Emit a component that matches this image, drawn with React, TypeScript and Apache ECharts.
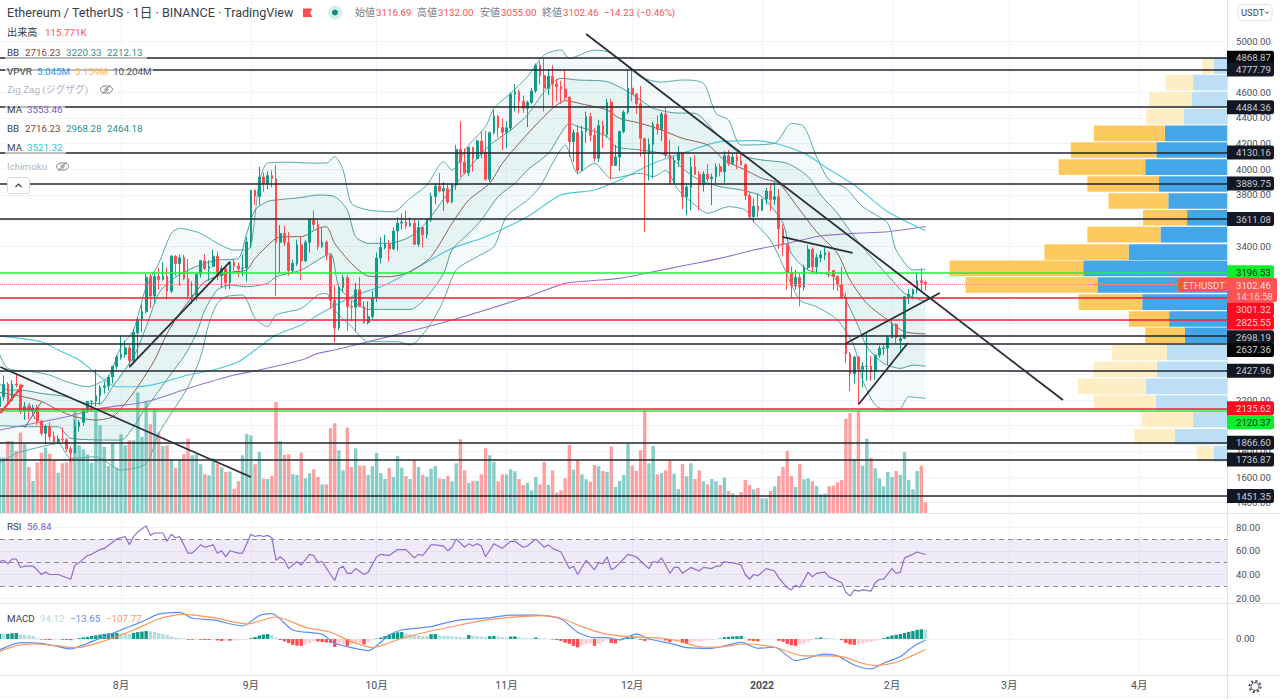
import React, { useEffect, useRef } from "react";
import * as echarts from "echarts";

// ---- daily candles: [open, high, low, close], 3 Jul 2021 to 9 Feb 2022 ----
const ohlc: number[][] = [
  // Jul
  [2150,2238,2115,2226],[2226,2390,2195,2322],[2322,2340,2165,2198],[2198,2355,2190,2324],[2324,2410,2300,2316],
  [2316,2330,2090,2116],[2116,2185,2045,2148],[2148,2160,2050,2115],[2115,2165,2095,2140],[2140,2165,2005,2035],
  [2035,2045,1920,1940],[1940,2010,1855,1995],[1995,2025,1885,1915],[1915,1955,1850,1875],[1875,1925,1860,1896],
  [1896,1985,1875,1890],[1890,1905,1795,1820],[1820,1840,1718,1787],[1787,2045,1785,1995],[1995,2045,1955,2027],
  [2027,2130,2000,2124],[2124,2192,2100,2188],[2188,2195,2110,2191],[2191,2440,2150,2233],[2233,2318,2160,2300],
  [2300,2345,2250,2310],[2310,2395,2275,2380],[2380,2465,2330,2463],[2463,2550,2440,2535],
  // Aug
  [2535,2700,2515,2555],[2555,2665,2530,2607],[2607,2630,2450,2508],[2508,2755,2480,2725],[2725,2845,2525,2827],
  [2827,2945,2730,2890],[2890,3185,2875,3158],[3158,3185,2915,3012],[3012,3185,2950,3163],[3163,3230,3060,3141],
  [3141,3275,3130,3164],[3164,3235,2985,3049],[3049,3330,3035,3322],[3322,3330,3170,3265],[3265,3335,3090,3310],
  [3310,3330,3135,3147],[3147,3300,2985,3011],[3011,3125,2950,3018],[3018,3185,2975,3182],[3182,3290,3155,3286],
  [3286,3340,3215,3226],[3226,3290,3130,3242],[3242,3375,3235,3322],[3322,3358,3135,3172],[3172,3250,3080,3226],
  [3226,3250,3065,3117],[3117,3285,3065,3275],[3275,3300,3210,3245],[3245,3270,3160,3225],[3225,3335,3170,3230],
  [3230,3470,3125,3432],
  // Sep
  [3432,3840,3385,3835],[3835,3845,3720,3788],[3788,4020,3720,3940],[3940,3975,3825,3888],[3888,3985,3845,3950],
  [3950,3990,3860,3926],[3926,4030,3010,3430],[3430,3565,3190,3498],[3498,3560,3400,3427],[3427,3510,3170,3210],
  [3210,3295,3195,3265],[3265,3450,3245,3410],[3410,3470,3135,3285],[3285,3450,3275,3430],[3430,3615,3350,3610],
  [3610,3680,3530,3570],[3570,3610,3370,3397],[3397,3540,3385,3432],[3432,3445,3290,3330],[3330,3335,2910,2978],
  [2978,3090,2650,2763],[2763,3110,2745,3078],[3078,3175,3040,3155],[3155,3175,2740,2930],[2930,2975,2815,2925],
  [2925,3115,2735,3060],[3060,3160,2925,2930],[2930,2970,2795,2805],[2805,2970,2790,2850],[2850,3050,2830,3000],
  // Oct
  [3000,3350,2965,3308],[3308,3470,3265,3390],[3390,3490,3375,3416],[3416,3450,3280,3380],[3380,3545,3370,3518],
  [3518,3625,3365,3580],[3580,3655,3530,3587],[3587,3675,3535,3560],[3560,3625,3550,3578],[3578,3605,3410,3415],
  [3415,3600,3395,3545],[3545,3550,3390,3490],[3490,3615,3460,3606],[3606,3815,3590,3788],[3788,3890,3725,3868],
  [3868,3970,3820,3830],[3830,3900,3675,3848],[3848,3890,3730,3745],[3745,3890,3735,3878],[3878,4190,3840,4155],
  [4155,4375,3940,4055],[4055,4165,3960,3972],[3972,4175,3945,4170],[4170,4175,3980,4084],[4084,4230,4075,4220],
  [4220,4295,4085,4132],[4132,4300,3910,3922],[3922,4295,3900,4285],[4285,4460,4270,4415],[4415,4420,4250,4325],
  [4325,4395,4150,4288],
  // Nov
  [4288,4375,4165,4322],[4322,4600,4300,4585],[4585,4665,4450,4605],[4605,4620,4435,4530],[4530,4575,4440,4475],
  [4475,4535,4330,4520],[4520,4635,4510,4610],[4610,4825,4595,4810],[4810,4840,4660,4730],[4730,4868,4450,4632],
  [4632,4780,4580,4726],[4726,4810,4490,4665],[4665,4705,4530,4645],[4645,4690,4510,4625],[4625,4770,4540,4560],
  [4560,4570,4095,4215],[4215,4310,4060,4285],[4285,4345,3960,3990],[3990,4340,3985,4295],[4295,4450,4205,4410],
  [4410,4440,4220,4265],[4265,4320,4060,4085],[4085,4385,4055,4340],[4340,4378,4165,4270],[4270,4550,4245,4522],
  [4522,4550,3920,4030],[4030,4190,4025,4095],[4095,4300,3985,4295],[4295,4460,4280,4445],[4445,4780,4430,4632],
  // Dec
  [4632,4780,4530,4586],[4586,4595,4430,4510],[4510,4650,4100,4240],[4240,4240,3510,4120],[4120,4240,3910,4195],
  [4195,4370,3930,4350],[4350,4420,4270,4310],[4310,4445,4220,4430],[4430,4485,4090,4110],[4110,4230,3880,3890],
  [3890,4100,3885,4070],[4070,4180,4020,4130],[4130,4135,3690,3785],[3785,3885,3640,3860],[3860,4095,3680,4018],
  [4018,4110,3955,3960],[3960,3985,3680,3880],[3880,3985,3825,3960],[3960,4040,3905,3925],[3925,3965,3720,3940],
  [3940,4045,3890,4020],[4020,4045,3945,3980],[3980,4140,3895,4105],[4105,4150,4025,4045],[4045,4120,4035,4096],
  [4096,4125,4000,4065],[4065,4125,4030,4035],[4035,4045,3760,3795],[3795,3825,3605,3630],[3630,3770,3585,3712],
  [3712,3815,3625,3680],
  // Jan
  [3680,3770,3675,3768],[3768,3855,3725,3830],[3830,3885,3675,3765],[3765,3900,3720,3785],[3785,3845,3380,3535],
  [3535,3570,3320,3410],[3410,3415,3060,3195],[3195,3240,3000,3090],[3090,3215,3060,3155],[3155,3185,2930,3080],
  [3080,3255,3055,3235],[3235,3410,3215,3375],[3375,3390,3195,3240],[3240,3340,3180,3310],[3310,3365,3275,3332],
  [3332,3390,3290,3350],[3350,3360,3160,3210],[3210,3215,3060,3165],[3165,3170,3050,3100],[3100,3240,2990,3000],
  [3000,3040,2490,2560],[2560,2575,2270,2405],[2405,2545,2330,2535],[2535,2545,2160,2440],[2440,2495,2300,2462],
  [2462,2725,2350,2465],[2465,2545,2350,2425],[2425,2555,2360,2550],[2550,2625,2530,2603],[2603,2630,2550,2606],
  [2606,2700,2475,2688],
  // Feb
  [2688,2815,2680,2790],[2790,2800,2640,2690],[2660,2710,2570,2680],[2680,3012,2675,3006],[3006,3065,2950,3025],
  [3025,3070,2985,3060],[3060,3190,3030,3130],[3130,3228,3050,3116.69],[3116.69,3132,3055,3102.46],
];

// daily volume in thousands
const volumes: number[] = [
  600,601,782,782,673,872,746,500,348,547,655,710,644,572,438,539,550,601,1119,735,691,637,547,1108,952,717,510,764,492,
  854,735,789,789,1307,825,1213,963,1126,872,728,735,583,492,572,637,807,626,637,529,420,409,594,536,492,445,449,264,344,626,858,843,
  529,662,373,369,402,1205,782,630,637,420,413,655,376,431,474,391,311,311,919,974,681,463,927,500,702,514,514,413,507,652,
  431,369,492,391,619,492,402,369,579,500,413,395,481,507,376,369,402,344,539,800,463,329,348,348,420,702,626,554,344,420,
  420,474,453,369,304,326,246,391,311,554,304,463,221,246,376,738,471,572,420,366,340,521,507,456,445,720,282,348,413,753,
  514,456,681,1115,539,728,420,434,463,572,427,261,532,398,539,369,463,344,311,369,344,304,384,239,214,188,228,358,304,257,272,
  159,159,239,290,402,500,673,402,282,532,366,376,344,293,203,210,290,297,333,358,1024,1082,583,1115,514,807,601,485,376,290,445,
  391,456,413,662,358,257,456,514,115.771,
];

// Bollinger bands and moving averages, read at [day index, price]
const bbUpper2: number[][] = [[0,2559],[2,2447],[8,2421],[12,2395],[16,2343],[21,2304],[23,2322],[26,2382],[29,2616],[32,2746],[35,3084],[38,3266],[41,3500],[43,3539],[48,3500],[52,3422],[56,3370],[59,3370],[60,3400],[61,3640],[62,3900],[64,4048],[69,4055],[74,4048],[78,4048],[80,4098],[82,3994],[84,3734],[88,3682],[94,3669],[98,3773],[102,3877],[106,4059],[108,3994],[112,4189],[116,4332],[118,4475],[122,4592],[126,4722],[130,4891],[134,4930],[136,4865],[142,4930],[146,4904],[153,4720],[158,4680],[163,4696],[168,4670],[171,4436],[174,4384],[177,4189],[185,4202],[189,4358],[192,4332],[195,4098],[198,3916],[202,3851],[206,3708],[212,3578],[214,3370],[218,3214],[221,3220.33]];
const bbUpper1: number[][] = [[0,2330],[2,2278],[5,2278],[10,2252],[16,2226],[21,2174],[24,2174],[27,2304],[32,2538],[35,2772],[38,3032],[41,3136],[45,3214],[49,3266],[52,3292],[57,3305],[59,3500],[61,3682],[64,3750],[66,3760],[72,3780],[76,3799],[80,3786],[83,3682],[85,3474],[88,3422],[93,3422],[98,3474],[102,3591],[107,3812],[109,3890],[114,4085],[117,4189],[122,4306],[126,4423],[130,4605],[134,4709],[138,4696],[145,4683],[150,4605],[153,4540],[156,4475],[161,4440],[166,4436],[171,4280],[175,4163],[178,4098],[182,4072],[188,4046],[193,3942],[196,3799],[200,3656],[204,3474],[208,3318],[213,3136],[216,3032],[221,2968.28]];
const bbBasis: number[][] = [[0,2260],[5,2230],[10,2190],[14,2122],[18,2070],[23,2044],[27,2070],[30,2174],[33,2304],[37,2512],[40,2720],[43,2876],[46,3006],[49,3123],[53,3175],[56,3201],[59,3214],[61,3305],[66,3461],[69,3474],[72,3474],[76,3539],[78,3552],[80,3422],[84,3266],[88,3167],[93,3162],[98,3201],[103,3318],[108,3578],[112,3760],[117,3890],[120,4046],[124,4202],[128,4345],[132,4475],[135,4535],[139,4509],[145,4462],[148,4397],[153,4358],[158,4306],[163,4241],[169,4189],[173,4072],[178,3994],[182,3929],[186,3890],[191,3682],[195,3513],[200,3344],[203,3136],[207,2954],[212,2824],[216,2733],[221,2716.23]];
const bbLower1: number[][] = [[0,2000],[8,1992],[14,1992],[17,1901],[29,1888],[32,1992],[34,2096],[37,2226],[41,2408],[44,2538],[47,2720],[49,2902],[52,3058],[55,3097],[59,3084],[64,3110],[66,3162],[72,3214],[76,3292],[79,3344],[81,3084],[85,2954],[88,2907],[98,2907],[102,3006],[106,3188],[108,3370],[112,3500],[115,3604],[119,3786],[123,3890],[126,3994],[131,4124],[134,4280],[136,4358],[138,4332],[141,4306],[145,4254],[147,4176],[153,4150],[156,4137],[160,4098],[163,4007],[167,3916],[172,3864],[177,3838],[182,3786],[187,3578],[189,3344],[193,3214],[199,3162],[202,2980],[205,2772],[207,2616],[211,2486],[215,2447],[218,2473],[221,2464.18]];
const bbLower2: number[][] = [[0,1706],[4,1784],[10,1836],[14,1862],[17,1745],[23,1758],[29,1654],[35,1706],[38,1940],[41,2096],[45,2304],[48,2538],[50,2798],[52,2954],[54,3006],[58,3019],[61,2837],[64,2772],[66,2863],[72,2915],[76,3019],[78,3032],[80,2902],[84,2772],[88,2655],[95,2655],[98,2629],[103,2798],[106,2980],[109,3214],[114,3318],[118,3396],[121,3630],[126,3760],[129,3864],[132,4046],[135,4189],[138,3968],[142,4046],[146,3929],[153,3968],[156,3942],[159,3990],[162,3838],[167,3695],[169,3656],[174,3708],[178,3682],[180,3591],[184,3448],[187,3250],[191,2980],[195,2928],[200,2824],[204,2616],[206,2356],[209,2161],[212,2122],[215,2135],[217,2226],[221,2212.13]];
const maLong: number[][] = [[0,1966],[16,2070],[24,2135],[35,2187],[45,2291],[56,2395],[62,2434],[72,2512],[76,2564],[80,2590],[96,2720],[108,2824],[126,3006],[135,3110],[141,3130],[148,3149],[156,3201],[164,3253],[172,3305],[180,3370],[188,3422],[196,3479],[204,3500],[212,3513],[221,3553.46]];
const maMid: number[][] = [[0,2699],[10,2655],[14,2590],[19,2512],[24,2382],[28,2304],[33,2304],[38,2330],[45,2395],[51,2434],[57,2499],[61,2590],[66,2707],[72,2785],[76,2863],[84,3006],[92,3097],[100,3240],[108,3383],[116,3474],[126,3630],[134,3799],[142,3838],[148,3916],[156,4046],[164,4137],[172,4215],[180,4223],[185,4202],[192,4124],[197,4020],[204,3877],[212,3669],[221,3521.32]];

// RSI, MACD read at [day index, value]
const rsiLine: number[][] = [[0,51],[1,52],[2,49],[3,53],[4,53],[5,46],[6,47],[8,47],[9,44],[10,40],[11,42],[12,40],[14,40],[17,36],[18,48],[19,50],[21,56],[22,57],[24,61],[25,62],[28,70],[30,72],[31,65],[32,72],[33,76],[35,81],[36,73],[37,75],[39,75],[40,68],[41,74],[42,71],[43,72],[45,58],[46,58],[48,65],[49,63],[51,65],[52,58],[53,60],[54,55],[55,60],[57,58],[58,58],[60,74],[61,72],[62,73],[63,72],[64,73],[65,71],[66,52],[67,55],[68,52],[69,45],[71,51],[72,48],[74,57],[75,56],[76,50],[77,51],[79,40],[80,35],[81,45],[82,47],[83,41],[84,41],[85,45],[87,40],[88,42],[90,55],[91,57],[93,56],[95,61],[97,61],[99,54],[100,57],[101,56],[103,65],[104,65],[106,64],[107,60],[108,63],[109,70],[111,63],[112,66],[113,64],[114,66],[115,64],[116,55],[118,66],[120,62],[122,68],[123,68],[125,63],[126,64],[128,70],[130,63],[131,65],[132,62],[134,59],[136,45],[137,47],[138,40],[140,52],[142,44],[143,50],[144,49],[145,55],[146,44],[147,46],[150,57],[152,55],[154,48],[155,45],[156,51],[157,50],[158,54],[160,41],[161,46],[162,46],[163,41],[165,46],[167,43],[168,46],[170,45],[171,47],[172,47],[173,51],[174,50],[175,50],[177,48],[178,40],[179,36],[180,40],[181,39],[183,45],[185,43],[186,37],[188,29],[189,27],[190,31],[191,29],[193,42],[194,38],[195,41],[197,42],[198,38],[201,33],[202,25],[203,22],[204,27],[205,26],[206,27],[208,26],[209,33],[210,36],[211,36],[213,45],[214,41],[215,42],[216,54],[218,57],[219,59],[221,56.84]];
const macdLine: number[][] = [[0,-112],[5,-37],[10,-44],[14,-78],[17,-101],[20,-61],[24,7],[30,108],[34,176],[38,253],[43,270],[46,210],[51,193],[58,132],[62,237],[65,257],[70,91],[77,47],[80,-44],[84,-88],[88,-118],[93,41],[96,91],[103,125],[106,159],[110,193],[115,210],[117,215],[122,243],[128,243],[134,203],[138,68],[142,14],[145,14],[148,-10],[152,51],[155,0],[160,-44],[164,-88],[170,-95],[177,-34],[181,-95],[185,-84],[190,-220],[197,-155],[200,-172],[204,-264],[208,-304],[211,-247],[215,-179],[218,-78],[221,-13.65]];
const macdSignal: number[][] = [[0,-128],[4,-68],[8,-51],[14,-71],[18,-88],[24,-34],[32,91],[38,203],[44,250],[51,216],[59,152],[66,223],[73,118],[79,68],[84,-27],[89,-88],[96,7],[103,81],[110,142],[115,186],[122,220],[130,237],[134,210],[139,125],[144,57],[150,24],[158,7],[162,-20],[168,-84],[173,-78],[178,-51],[185,-84],[192,-172],[197,-172],[201,-179],[206,-247],[209,-270],[214,-237],[221,-107.77]];
const macdHist: number[] = [
  52,50,52,58,60,45,40,38,30,10, -5,-8,-10,-6,-5,-8,-10,-12,-4,8, 16,22,30,38,45,52,58,60,62,58, 55,50,62,70,75,80,78,72,60,50,
  42,25,15,10,6,-8,-8,-6,-8,-10, -10,-5,-15,-20,-18,-18,-15,-14,-10,-6, 8,20,35,45,50,40,12,-10,-25,-42, -60,-68,-70,-55,-40,-20,-25,-32,-36,-40,
  -80,-65,-55,-70,-50,-45,-40,-55,-30,-15, 5,15,30,45,60,68,70,55,48,42, 35,30,28,48,50,38,32,30,28,24, 20,15,40,32,28,25,20,28,30,25,
  20,15,25,26,18,12,10,8,15,10, 6,2,-5,-12,-20,-38,-50,-70,-85,-60, -50,-45,-70,-50,-30,-15,-40,-45,-8,8, 15,25,20,-10,-20,-15,-12,-8,-6,-15,
  -30,-10,-8,-40,-50,-35,-28,-25,-18,-15, -12,-6,5,18,22,26,28,30,6,-15, -20,-25,-5,-4,-3,-2,-18,-28,-50,-65, -70,-55,-45,-30,-10,8,15,10,8,6,
  3,-12,-40,-55,-60,-55,-45,-35,-28,-20, -8,8,22,35,42,50,62,72,80,92, 98,94.12,
];

// Volume profile: bin centre price, up and down volume in millions, in value area
const vpvrLevels = [4805,4675,4543,4410,4280,4150,4017,3885,3752,3622,3490,3354,3227,3097,2964,2832,2704,2572,2439,2307,2177,2047,1914,1781];
const vpvrUp = [0.49,1.25,1.31,1.59,2.29,2.60,3.01,2.50,2.16,1.47,2.45,3.62,5.29,4.77,3.12,2.13,1.55,2.21,2.58,2.98,2.62,1.25,1.92,0.49];
const vpvrDown = [0.42,1.01,1.56,1.40,2.61,3.15,3.19,2.64,2.20,1.62,2.69,3.10,4.92,4.85,2.34,1.48,1.46,2.02,2.33,2.51,2.28,1.90,1.50,0.63];
const vpvrInArea = [0,0,0,0,1,1,1,1,1,1,1,1,1,1,1,1,1,0,0,0,0,0,0,0];

// Horizontal price levels
const darkLevels = [4868.87,4777.79,4484.36,4130.16,3889.75,3611.08,2698.19,2637.36,2427.96,1866.60,1736.87,1451.35];
const redLevels = [3001.32,2825.55,2135.62];
const greenLevels = [3196.53,2120.37];
const lastPrice = 3102.46;

// Axis ticks
const priceGrid = [5000,4800,4600,4400,4200,4000,3800,3600,3400,3200,3000,2800,2600,2400,2200,2000,1800,1600,1400];
const priceTickLabels = [5000,4600,4400,4200,4000,3800,3400,2200,1800,1600,1400];
const rsiTicks = [20,40,60,80];
const macdTicks = [0];
const monthTicks = [29,60,90,121,151,182,213,241,272];
const monthNames = ["8月","9月","10月","11月","12月","2022","2月","3月","4月"];

// Trend lines drawn by hand on the chart: pairs of [day index, price]
const trendLines: number[][][] = [
  [[0.2,2458],[60,1600]],
  [[31,2458],[55,3277]],
  [[140,5055],[253.8,2200]],
  [[186.8,3472],[203.6,3347]],
  [[202.2,2645],[224.4,3035]],
  [[205.1,2169],[216.8,2645]],
];
const minorTrendLines: number[][][] = [
  [[6,1984],[10,2186]],
  [[7,2178],[8.5,2050]],
];
const redTrendLine: number[][] = [[0.2,2099],[5.6,2317]];

const FONT = 'Roboto, "Noto Sans CJK JP", sans-serif';
const GRID_W = 1227;
const PX_PER_DAY = 4.19;
const X_MIN = 0.5 / PX_PER_DAY;
const X_MAX = (GRID_W + 0.5) / PX_PER_DAY;
const priceY = (p: number) => 41 + (5000 - p) * 0.12824;
const PRICE_MAX = 5000 + 41 / 0.12824;
const PRICE_MIN = 5000 - (513 - 41) / 0.12824;
const VOL_MAX = (513 * 10.85);
const VPVR_MAX = GRID_W * 0.0368;
const VPVR_HALF = 61;

const UP = "#0f9d8a";
const DOWN = "#ff4d4f";

const txt = (x: number, y: number, text: string, fill: string, size = 10.5, align = "left", weight = "normal") => ({
  type: "text", x, y, z: 100, silent: true,
  style: { text, fill, font: `${weight} ${size}px ${FONT}`, textAlign: align, textVerticalAlign: "middle" },
});

const eye = (cx: number, cy: number) => ({
  type: "group", x: cx, y: cy, z: 100, silent: true,
  children: [
    { type: "ellipse", shape: { cx: 0, cy: 0, rx: 6, ry: 3.6 }, style: { fill: "none", stroke: "#787b86", lineWidth: 1 }, z: 100 },
    { type: "circle", shape: { cx: 0, cy: 0, r: 1.6 }, style: { fill: "none", stroke: "#787b86", lineWidth: 1 }, z: 100 },
    { type: "line", shape: { x1: -4, y1: 4.5, x2: 4, y2: -4.5 }, style: { stroke: "#787b86", lineWidth: 1 }, z: 100 },
  ],
});

const veil = (x: number, y: number, w: number, h: number) => ({
  type: "rect", z: 90, silent: true, shape: { x, y, width: w, height: h }, style: { fill: "rgba(255,255,255,0.6)" },
});

const tagNudge: Record<string, number> = { "3001.32": 12, "2825.55": 3, "2698.19": 1, "2637.36": 6, "2120.37": 12 };
const blackTags = [4868.87, 2637.36];

const priceTag = (level: number, bg: string, fg: string) => {
  const y = priceY(level) + (tagNudge[level.toFixed(2)] || 0);
  return [
    { type: "rect", z: 95, silent: true, shape: { x: GRID_W, y: y - 7, width: 47, height: 14, r: [0, 2, 2, 0] }, style: { fill: bg } },
    txt(1236, y, level.toFixed(2), fg, 9.6),
  ];
};

function buildGraphic() {
  const g: any[] = [];
  // pane frames
  g.push({ type: "line", z: 20, silent: true, shape: { x1: GRID_W + 0.5, y1: 0, x2: GRID_W + 0.5, y2: 699 }, style: { stroke: "#e0e3eb", lineWidth: 1 } });
  [513.5, 603.5, 675.5].forEach((y) =>
    g.push({ type: "line", z: 20, silent: true, shape: { x1: 0, y1: y, x2: 1280, y2: y }, style: { stroke: "#e6e8ee", lineWidth: 1.2 } })
  );
  g.push({ type: "line", z: 20, silent: true, shape: { x1: 0, y1: 697, x2: 1280, y2: 697 }, style: { stroke: "#eef0f4", lineWidth: 1 } });

  // legend veils
  g.push(veil(5, 44, 142, 16), veil(5, 62, 148, 16), veil(5, 81, 112, 16), veil(5, 101, 60, 16), veil(5, 120, 140, 16), veil(5, 139, 61, 16), veil(5, 158, 68, 16));

  // header
  g.push(txt(7, 12.5, "Ethereum / TetherUS · 1日 · BINANCE · TradingView", "#3a3e4a", 12.6));
  g.push({ type: "polygon", z: 100, silent: true, shape: { points: [[303, 8.5], [312.5, 8.5], [310, 12.7], [312.5, 17], [303, 17]] }, style: { fill: "#ff4d4f" } });
  g.push({ type: "circle", z: 99, silent: true, shape: { cx: 335, cy: 12.5, r: 7 }, style: { fill: "#d9efec" } });
  g.push({ type: "circle", z: 100, silent: true, shape: { cx: 335, cy: 12.5, r: 3 }, style: { fill: "#0f8f80" } });
  const ohlcCol = "#ff5252";
  g.push(txt(355, 12.5, "始値", "#787b86", 10), txt(376, 12.5, "3116.69", ohlcCol, 9.8));
  g.push(txt(417, 12.5, "高値", "#787b86", 10), txt(438, 12.5, "3132.00", ohlcCol, 9.8));
  g.push(txt(480, 12.5, "安値", "#787b86", 10), txt(501, 12.5, "3055.00", ohlcCol, 9.8));
  g.push(txt(542, 12.5, "終値", "#787b86", 10), txt(563, 12.5, "3102.46", ohlcCol, 9.8));
  g.push(txt(604, 12.5, "−14.23 (−0.46%)", ohlcCol, 9.8));

  // legend rows
  g.push(txt(7, 32, "出来高", "#3a3e4a", 10.2), txt(45, 32.5, "115.771K", ohlcCol, 9.8));
  g.push(txt(7, 52, "BB", "#3a3e4a", 9.8), txt(25, 52, "2716.23", "#7d4a42", 9.8), txt(66, 52, "3220.33", "#2f8f8c", 9.8), txt(107, 52, "2212.13", "#2f8f8c", 9.8));
  g.push(txt(7, 71, "VPVR", "#3a3e4a", 9.8), txt(37, 71, "5.045M", "#2196f3", 9.8), txt(75, 71, "5.159M", "#ffb74d", 9.8), txt(113, 71, "10.204M", "#4a4e5a", 9.8));
  g.push(txt(7, 89.5, "Zig Zag (ジグザグ)", "#b2b5be", 9.8), eye(106.5, 89.5));
  g.push(txt(7, 109.5, "MA", "#3a3e4a", 9.8), txt(27, 109.5, "3553.46", "#7e57c2", 9.8));
  g.push(txt(7, 128.5, "BB", "#3a3e4a", 9.8), txt(25, 128.5, "2716.23", "#7d4a42", 9.8), txt(66, 128.5, "2968.28", "#2f8f8c", 9.8), txt(107, 128.5, "2464.18", "#2f8f8c", 9.8));
  g.push(txt(7, 147.5, "MA", "#3a3e4a", 9.8), txt(27, 147.5, "3521.32", "#26c6da", 9.8));
  g.push(txt(7, 166.5, "Ichimoku", "#b2b5be", 9.8), eye(62.5, 166.5));
  g.push({ type: "rect", z: 99, silent: true, shape: { x: 7.5, y: 177.5, width: 22, height: 16, r: 2 }, style: { fill: "#fff", stroke: "#d6d8df", lineWidth: 1 } });
  g.push({ type: "polyline", z: 100, silent: true, shape: { points: [[15.5, 187], [18.5, 184], [21.5, 187]] }, style: { fill: "none", stroke: "#3a3e4a", lineWidth: 1.2 } });

  // RSI and MACD headers
  g.push(txt(7, 526, "RSI", "#3a3e4a", 9.8), txt(27, 526, "56.84", "#7e57c2", 9.8));
  g.push(txt(7, 618, "MACD", "#3a3e4a", 9.8), txt(40, 618, "94.12", "#b2dfdb", 9.8), txt(70, 618, "−13.65", "#5a8ef7", 9.8), txt(106, 618, "−107.77", "#ff9b6a", 9.8));

  // USDT button
  g.push({ type: "rect", z: 99, silent: true, shape: { x: 1238, y: 4.5, width: 34, height: 16, r: 3 }, style: { fill: "#fff", stroke: "#e0e3eb", lineWidth: 1 } });
  g.push(txt(1241, 12.5, "USDT", "#3a3e4a", 9.4));
  g.push({ type: "polyline", z: 100, silent: true, shape: { points: [[1265, 11.5], [1267, 13.5], [1269, 11.5]] }, style: { fill: "none", stroke: "#3a3e4a", lineWidth: 1 } });

  // gear
  g.push({ type: "circle", z: 100, silent: true, shape: { cx: 1255, cy: 686.5, r: 5.6 }, style: { fill: "none", stroke: "#4a4e5a", lineWidth: 1.8, lineDash: [2.2, 2.2] } });
  g.push({ type: "circle", z: 100, silent: true, shape: { cx: 1255, cy: 686.5, r: 4 }, style: { fill: "#fff", stroke: "#4a4e5a", lineWidth: 1 } });

  // price tags
  darkLevels.forEach((l) => g.push(...priceTag(l, blackTags.includes(l) ? "#050505" : "#131722", "#c8ccd6")));
  greenLevels.forEach((l) => g.push(...priceTag(l, "#0cf02c", "#10301a")));
  redLevels.forEach((l) => g.push(...priceTag(l, "#ff0a1e", "#ffd6d6")));

  // last price tag
  g.push({ type: "rect", z: 96, silent: true, shape: { x: 1178, y: 278, width: 49, height: 14, r: [2, 0, 0, 2] }, style: { fill: "#ff5252" } });
  g.push(txt(1183, 285, "ETHUSDT", "#ffdcdc", 9.6));
  g.push({ type: "rect", z: 96, silent: true, shape: { x: GRID_W, y: 278, width: 50, height: 24, r: [0, 2, 2, 0] }, style: { fill: "#ff5252" } });
  g.push(txt(1236, 285, "3102.46", "#ffe0e0", 9.6), txt(1236, 296, "14:16:58", "#ffd0d0", 9.6));
  return g;
}

const bandSeries = (upper: number[][], lower: number[][], fill: string, z: number) => ({
  type: "custom",
  xAxisIndex: 0,
  yAxisIndex: 0,
  z,
  silent: true,
  clip: true,
  encode: { x: 0, y: 1 },
  data: upper,
  renderItem: (params: any, api: any) => {
    if (params.dataIndex !== 0) return null;
    const pts = [...upper, ...lower.slice().reverse()].map((p) => api.coord(p));
    return { type: "polygon", shape: { points: pts }, style: { fill, stroke: "none" }, silent: true };
  },
});

const lineOf = (data: number[][], color: string, width: number, z: number, xi = 0, yi = 0, smooth: number | boolean = 0.25) => ({
  type: "line", data, xAxisIndex: xi, yAxisIndex: yi, z, silent: true, smooth,
  showSymbol: false, symbol: "none", lineStyle: { color, width },
});

const gridMarks = (xi: number, yi: number, yVals: number[], y0: number) => ({
  type: "line", xAxisIndex: xi, yAxisIndex: yi, z: 0, silent: true, showSymbol: false, symbol: "none",
  data: [[X_MIN, y0]], lineStyle: { width: 0 },
  markLine: {
    silent: true, symbol: "none", animation: false, label: { show: false }, z: 0,
    lineStyle: { color: "#f0f3fa", width: 1, type: "solid" },
    data: [...monthTicks.map((m) => ({ xAxis: m })), ...yVals.map((v) => ({ yAxis: v }))],
  },
});

const levelMarks = (levels: number[], color: string, width: number, type = "solid", z = 30) => ({
  type: "line", xAxisIndex: 0, yAxisIndex: 0, z, silent: true, showSymbol: false, symbol: "none",
  data: [[X_MIN, levels[0]]], lineStyle: { width: 0 },
  markLine: {
    silent: true, symbol: "none", animation: false, label: { show: false }, z,
    lineStyle: { color, width, type },
    data: levels.map((v) => ({ yAxis: v })),
  },
});

function buildOption(): any {
  const xBase = { type: "value", min: X_MIN, max: X_MAX, splitLine: { show: false }, axisLine: { show: false }, axisTick: { show: false } };
  const volData = volumes.map((v, i) => ({
    value: [i, v],
    itemStyle: { color: ohlc[i][3] >= ohlc[i][0] ? "rgba(38,166,154,0.55)" : "rgba(255,82,82,0.55)" },
  }));
  const histData = macdHist.map((v, i) => {
    const prev = i > 0 ? macdHist[i - 1] : v;
    const color = v >= 0 ? (v >= prev ? "#0f9a87" : "#b2dfdb") : (v <= prev ? "#ff4d4f" : "#ffcdd2");
    return { value: [i, v], itemStyle: { color } };
  });
  const candleData = ohlc.map((r, i) => [i, r[0], r[3], r[2], r[1]]);
  const vpvrData = vpvrLevels.map((l, i) => [l, vpvrUp[i], vpvrDown[i], vpvrInArea[i]]);
  return {
    animation: false,
    backgroundColor: "#fff",
    tooltip: { show: false },
    legend: { show: false },
    grid: [
      { left: 0, top: 0, width: GRID_W, height: 513 },
      { left: 0, top: 514, width: GRID_W, height: 89 },
      { left: 0, top: 604, width: GRID_W, height: 71 },
    ],
    xAxis: [
      { ...xBase, gridIndex: 0, axisLabel: { show: false } },
      { ...xBase, gridIndex: 1, axisLabel: { show: false } },
      {
        ...xBase, gridIndex: 2, position: "bottom",
        axisLabel: {
          show: true, margin: 5, color: "#4a4e5a", fontFamily: FONT, fontSize: 10.5,
          customValues: monthTicks,
          formatter: (v: number) => {
            const n = monthNames[monthTicks.indexOf(Math.round(v))] || "";
            return n === "2022" ? `{b|${n}}` : n;
          },
          rich: { b: { fontWeight: "bold", fontFamily: FONT, fontSize: 10.5, color: "#4a4e5a" } },
        },
      },
      { type: "value", gridIndex: 0, inverse: true, min: 0, max: VPVR_MAX, show: false },
    ],
    yAxis: [
      {
        type: "value", gridIndex: 0, position: "right", min: PRICE_MIN, max: PRICE_MAX,
        splitLine: { show: false }, axisLine: { show: false }, axisTick: { show: false },
        axisLabel: {
          margin: 9, color: "#4a4e5a", fontFamily: FONT, fontSize: 9.6, customValues: priceTickLabels,
          formatter: (v: number) => v.toFixed(2),
        },
      },
      { type: "value", gridIndex: 0, min: 0, max: VOL_MAX, show: false },
      {
        type: "value", gridIndex: 1, position: "right", min: 16, max: 91,
        splitLine: { show: false }, axisLine: { show: false }, axisTick: { show: false },
        axisLabel: { margin: 9, color: "#4a4e5a", fontFamily: FONT, fontSize: 9.6, customValues: rsiTicks, formatter: (v: number) => v.toFixed(2) },
      },
      {
        type: "value", gridIndex: 2, position: "right", min: -366, max: 355,
        splitLine: { show: false }, axisLine: { show: false }, axisTick: { show: false },
        axisLabel: { margin: 9, color: "#4a4e5a", fontFamily: FONT, fontSize: 9.6, customValues: macdTicks, formatter: (v: number) => v.toFixed(2) },
      },
    ],
    series: [
      gridMarks(0, 0, priceGrid, 5000),
      gridMarks(1, 2, rsiTicks, 50),
      gridMarks(2, 3, macdTicks, 0),

      // Volume profile
      {
        type: "custom", xAxisIndex: 3, yAxisIndex: 0, z: 2, silent: true, clip: true,
        encode: { x: [1, 2], y: 0 },
        data: vpvrData,
        renderItem: (_p: any, api: any) => {
          const c = api.value(0), up = api.value(1), down = api.value(2), area = api.value(3);
          const a = api.coord([0, c + VPVR_HALF]);
          const b = api.coord([up, c - VPVR_HALF]);
          const d = api.coord([up + down, c - VPVR_HALF]);
          const blue = area ? "#43a6e8" : "#bcdff5";
          const orange = area ? "#fec95f" : "#feeec5";
          return {
            type: "group",
            children: [
              { type: "rect", shape: { x: b[0], y: a[1], width: a[0] - b[0], height: b[1] - a[1] }, style: { fill: blue } },
              { type: "rect", shape: { x: d[0], y: a[1], width: b[0] - d[0], height: b[1] - a[1] }, style: { fill: orange } },
            ],
          };
        },
      },

      // Bollinger fills
      bandSeries(bbUpper2, bbLower2, "rgba(38,166,154,0.055)", 3),
      bandSeries(bbUpper1, bbLower1, "rgba(38,166,154,0.065)", 3),

      // Volume
      { type: "bar", xAxisIndex: 0, yAxisIndex: 1, z: 4, silent: true, barWidth: 3.4, data: volData },

      // Moving lines
      lineOf(maLong, "#9575cd", 1.1, 6),
      lineOf(maMid, "#4cc7de", 1.1, 6),
      lineOf(bbUpper2, "#5aa9a6", 1, 7),
      lineOf(bbLower2, "#5aa9a6", 1, 7),
      lineOf(bbUpper1, "#4f9a9c", 1, 7),
      lineOf(bbLower1, "#4f9a9c", 1, 7),
      lineOf(bbBasis, "#8d5f57", 1, 7),

      // Candles
      {
        type: "candlestick", xAxisIndex: 0, yAxisIndex: 0, z: 8, silent: true, barWidth: 2.2,
        encode: { x: 0, y: [1, 2, 3, 4] },
        data: candleData,
        itemStyle: { color: UP, color0: DOWN, borderColor: UP, borderColor0: DOWN, borderWidth: 1 },
      },

      // Levels
      levelMarks(darkLevels, "#22252d", 1.5),
      levelMarks(redLevels, "#ff1a33", 1.5),
      levelMarks(greenLevels, "#1ff03a", 1.5),
      levelMarks([lastPrice], "#ff8a8a", 1, "dotted"),

      // Hand drawn lines
      ...trendLines.map((d) => lineOf(d, "#2a2e39", 1.8, 40, 0, 0, false)),
      ...minorTrendLines.map((d) => lineOf(d, "#5a5e68", 1, 40, 0, 0, false)),
      lineOf(redTrendLine, "#ff3b3b", 2.2, 40, 0, 0, false),

      // RSI
      {
        type: "line", xAxisIndex: 1, yAxisIndex: 2, z: 5, silent: true, showSymbol: false, symbol: "none",
        data: rsiLine, lineStyle: { color: "#8f6fcc", width: 1.2 },
        markArea: { silent: true, itemStyle: { color: "rgba(126,87,194,0.12)" }, data: [[{ yAxis: 70 }, { yAxis: 30 }]] },
        markLine: {
          silent: true, symbol: "none", animation: false, label: { show: false },
          lineStyle: { color: "#8a8d96", width: 1, type: [5, 4] },
          data: [{ yAxis: 70 }, { yAxis: 50 }, { yAxis: 30 }],
        },
      },

      // MACD
      { type: "bar", xAxisIndex: 2, yAxisIndex: 3, z: 3, silent: true, barWidth: 3.4, data: histData },
      lineOf(macdLine, "#5a8ef7", 1.2, 5, 2, 3),
      lineOf(macdSignal, "#ff9557", 1.2, 5, 2, 3),
    ],
    graphic: { elements: buildGraphic() },
  };
}

export default function App() {
  const ref = useRef<HTMLDivElement>(null);
  useEffect(() => {
    document.body.style.margin = "0";
    document.body.style.background = "#fff";
    const chart = echarts.init(ref.current!, undefined, { renderer: "svg" });
    chart.setOption(buildOption());
    return () => chart.dispose();
  }, []);
  return <div ref={ref} style={{ width: 1280, height: 699, overflow: "hidden" }} />;
}
